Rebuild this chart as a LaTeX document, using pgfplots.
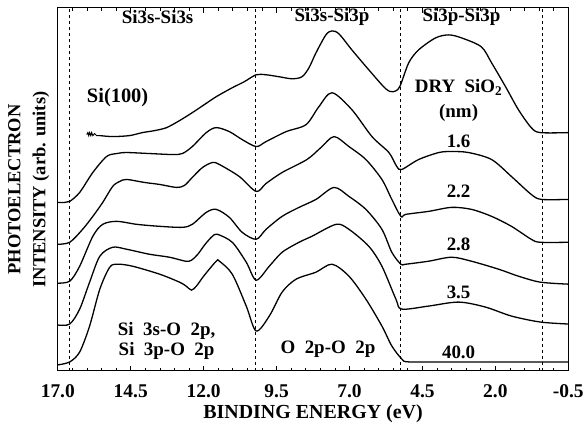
\documentclass[border=0pt]{standalone}
\usepackage{fontspec}
\setmainfont{Liberation Serif}
\usepackage{pgfplots}
\pgfplotsset{compat=1.18}
\begin{document}
\begin{tikzpicture}
\begin{axis}[name=ax, scale only axis, width=512pt, height=364pt,
  x dir=reverse, xmin=-0.5, xmax=17, ymin=0, ymax=364,
  xtick={17,14.5,12,9.5,7,4.5,2,-0.5},
  xticklabels={17.0,14.5,12.0,9.5,7.0,4.5,2.0,-0.5},
  minor x tick num=4, ytick=\empty,
  tick align=inside, xticklabel pos=lower,
  major tick length=5pt, minor tick length=3pt,
  every tick/.style={black, line width=0.8pt},
  axis line style={line width=1pt},
  every tick label/.append style={font=\bfseries\fontsize{19.5}{19.5}\selectfont},
  xticklabel style={yshift=-10pt},
  xlabel={BINDING ENERGY (eV)},
  xlabel style={font=\bfseries\fontsize{20}{20}\selectfont, yshift=0pt},
  ylabel={PHOTOELECTRON\\INTENSITY (arb. units)},
  ylabel style={align=center, font=\bfseries\fontsize{18.5}{25}\selectfont, yshift=5pt},
  every axis plot/.append style={black, line width=1.3pt},
  clip=false]
% dashed separators
\addplot[dashed, line width=0.6pt, dash pattern=on 3pt off 3pt] coordinates {(16.6,0) (16.6,364)};
\addplot[dashed, line width=0.6pt, dash pattern=on 3pt off 3pt] coordinates {(10.22,0) (10.22,364)};
\addplot[dashed, line width=0.6pt, dash pattern=on 3pt off 3pt] coordinates {(5.25,0) (5.25,364)};
\addplot[dashed, line width=0.6pt, dash pattern=on 3pt off 3pt] coordinates {(0.4,0) (0.4,364)};
% Si(100)
\addplot[line width=1pt] coordinates {(16.01,237)(15.97,239)(15.94,236)(15.91,239)(15.87,236)(15.84,239)(15.80,236)(15.74,238)(15.67,236)(15.56,236)};
\addplot[smooth] coordinates {(15.56,236)(15.12,235)(14.54,236)(14.10,239)(13.68,241)(13.27,244)(12.83,251)(12.39,259)(11.98,267)(11.57,275)(11.02,284)(10.61,290)(10.20,297)(9.86,297)(9.41,295)(8.97,293)(8.63,295)(8.39,304)(8.15,319)(7.81,337)(7.60,341)(7.36,338)(6.92,322)(6.34,302)(5.76,283)(5.50,280)(5.28,285)(4.97,309)(4.63,322)(4.05,334)(3.60,337)(3.16,334)(2.48,325)(2.13,309)(1.65,285)(1.21,262)(0.77,244)(0.46,239)(-0.50,239)};
% 1.6 nm
\addplot[smooth] coordinates {(17.00,169)(16.76,169)(16.59,170)(16.25,179)(15.80,199)(15.33,215)(14.98,218)(14.64,219)(13.86,218)(13.07,217)(12.73,218)(12.39,225)(11.91,239)(11.57,244)(11.12,240)(10.68,232)(10.20,225)(9.86,230)(9.17,240)(8.49,247)(8.05,265)(7.60,279)(6.92,262)(6.23,235)(5.65,219)(5.38,205)(5.21,202)(4.63,212)(3.94,219)(3.50,220)(2.92,219)(2.13,212)(1.45,195)(0.77,177)(0.42,172)(-0.50,172)};
% 2.2 nm
\addplot[smooth] coordinates {(17.00,127)(16.59,129)(16.15,142)(15.80,155)(15.46,169)(15.12,185)(14.88,190)(14.64,192)(14.03,189)(13.51,187)(12.93,184)(12.66,186)(12.39,194)(12.04,204)(11.70,209)(11.46,207)(10.78,195)(10.20,180)(9.86,188)(9.31,199)(8.46,212)(7.98,224)(7.53,235)(7.02,225)(6.44,212)(5.89,192)(5.55,172)(5.24,155)(5.07,157)(4.29,160)(3.50,164)(2.82,162)(2.13,155)(1.45,145)(0.77,132)(0.46,129)(-0.50,129)};
% 2.8 nm
\addplot[smooth] coordinates {(17.00,88)(16.59,90)(16.25,105)(15.80,135)(15.46,147)(14.98,150)(14.30,147)(13.51,145)(12.73,144)(12.39,147)(11.91,159)(11.57,162)(11.12,154)(10.68,139)(10.20,132)(9.86,142)(9.31,155)(8.73,164)(8.15,172)(7.53,184)(7.02,175)(6.44,162)(5.89,142)(5.55,119)(5.24,107)(5.07,107)(4.29,110)(3.50,114)(2.82,110)(1.89,102)(1.21,95)(0.46,89)(-0.50,87)};
% 3.5 nm
\addplot[smooth] coordinates {(17.00,46)(16.59,47)(16.25,62)(15.91,89)(15.56,115)(15.12,124)(14.64,122)(13.86,117)(13.17,114)(12.62,110)(12.42,111)(12.20,117)(11.95,127)(11.70,135)(11.53,137)(11.02,129)(10.54,109)(10.20,91)(9.75,105)(9.31,119)(8.73,129)(8.29,135)(7.46,147)(7.02,142)(6.34,125)(5.89,105)(5.41,72)(5.21,62)(4.29,65)(3.26,69)(2.34,64)(1.45,55)(0.46,49)(-0.50,47)};
% 40.0 nm
\addplot[smooth] coordinates {(17.00,6)(16.59,9)(16.25,19)(15.91,45)(15.56,82)(15.22,104)(14.95,107)(14.44,105)(13.51,97)(12.83,89)(12.60,85)(12.42,81)(12.25,85)(12.00,95)(11.57,110)(11.46,110)(11.02,97)(10.54,65)(10.20,40)(9.75,55)(9.31,79)(8.83,92)(8.15,99)(7.60,107)(7.02,95)(6.44,72)(5.89,45)(5.55,25)(5.21,12)(4.97,9)(3.60,9)(-0.50,9)};
% labels
\begin{scope}[every node/.style={font=\bfseries\fontsize{19}{19}\selectfont, inner sep=0pt}]
\node at (axis cs:13.58,355) {Si3s-Si3s};
\node at (axis cs:7.60,355) {Si3s-Si3p};
\node at (axis cs:3.16,355) {Si3p-Si3p};
\node[font=\bfseries\fontsize{20.5}{20.5}\selectfont] at (axis cs:14.95,274) {Si(100)};
\node at (axis cs:3.26,284) {DRY\ \ SiO$_{\mathbf{2}}$};
\node at (axis cs:3.26,259) {(nm)};
\node at (axis cs:3.26,230) {1.6};
\node at (axis cs:3.26,180) {2.2};
\node at (axis cs:3.26,127) {2.8};
\node at (axis cs:3.26,79) {3.5};
\node at (axis cs:3.26,19) {40.0};
\node[align=center, font=\bfseries\fontsize{19}{19.5}\selectfont] at (axis cs:13.27,30) {Si\ \ 3s-O\ \ 2p,\\Si\ \ 3p-O\ \ 2p};
\node at (axis cs:7.74,22) {O\ \ 2p-O\ \ 2p};
\end{scope}
\end{axis}
\path ([xshift=-58pt,yshift=-57pt]ax.south west) rectangle ([xshift=17pt,yshift=8pt]ax.north east);
\end{tikzpicture}
\end{document}
